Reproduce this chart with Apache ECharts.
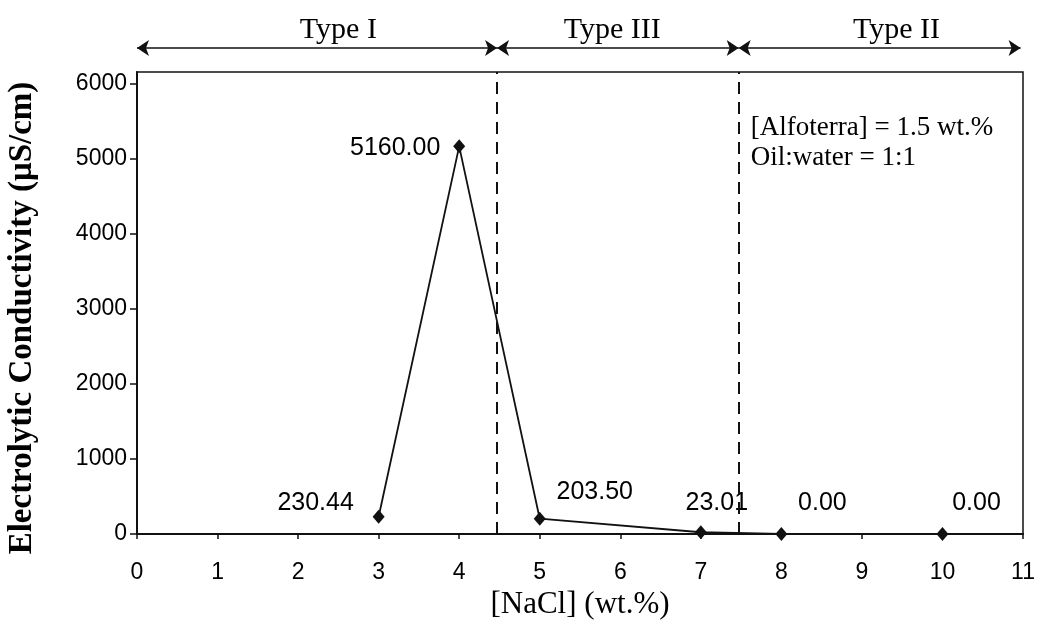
<!DOCTYPE html>
<html><head><meta charset="utf-8">
<script src="https://cdn.jsdelivr.net/npm/echarts@6/dist/echarts.min.js"></script>
<style>html,body{margin:0;padding:0;background:#fff}#c{width:1041px;height:634px}</style>
</head><body><div id="c"></div>
<script>
// ---- data ----
const nacl = [3, 4, 5, 7, 8, 10];
const conductivity = [230.44, 5160.00, 203.50, 23.01, 0.00, 0.00];
const xTicks = [0, 1, 2, 3, 4, 5, 6, 7, 8, 9, 10, 11];
const yTicks = [0, 1000, 2000, 3000, 4000, 5000, 6000];
const phaseBoundaries = [0, 4.47, 7.47, 10.97];
const phaseNames = ['Type I', 'Type III', 'Type II'];
const phaseLabelX = [2.5, 5.9, 9.43];
const dividers = [4.47, 7.47];
const noteLines = ['[Alfoterra] = 1.5 wt.%', 'Oil:water = 1:1'];
const xTitle = '[NaCl] (wt.%)';
const yTitle = 'Electrolytic Conductivity (\u03bcS/cm)';

// ---- layout / style ----
const SANS = "'Liberation Sans', Arial, sans-serif";
const SERIF = "'Liberation Serif', 'Times New Roman', serif";
const labelOffsets = [[-63, -14], [-64, 2], [55, -27], [16, -29], [41, -31], [34, -31]];

const chart = echarts.init(document.getElementById('c'), null, {renderer: 'canvas'});

const mainData = nacl.map((x, i) => ({
  value: [x, conductivity[i]],
  label: {
    show: true, position: 'inside', offset: labelOffsets[i],
    formatter: conductivity[i].toFixed(2),
    color: '#000', fontFamily: SANS, fontSize: 25
  }
}));

const arrowData = phaseNames.map((n, i) => ({
  coords: [[phaseBoundaries[i], 0.2], [phaseBoundaries[i + 1], 0.2]]
}));

const option = {
  backgroundColor: '#fff',
  animation: false,
  grid: [
    {left: 137, right: 18, top: 72, bottom: 100, show: true, borderColor: '#111', borderWidth: 1.5, backgroundColor: 'transparent'},
    {left: 137, right: 18, top: 0, height: 60, show: false}
  ],
  xAxis: [
    {
      type: 'value', gridIndex: 0, min: xTicks[0], max: xTicks[xTicks.length - 1], interval: 1,
      axisLine: {lineStyle: {color: '#111', width: 2}},
      axisTick: {show: true, length: 5, inside: false, lineStyle: {color: '#111', width: 1.5}},
      axisLabel: {color: '#000', fontFamily: SANS, fontSize: 23, margin: 27, formatter: v => String(v)},
      splitLine: {show: false},
      name: xTitle, nameLocation: 'middle', nameGap: 55,
      nameTextStyle: {fontFamily: SERIF, fontSize: 31, color: '#000'}
    },
    {type: 'value', gridIndex: 1, min: 0, max: 11, show: false}
  ],
  yAxis: [
    {
      type: 'value', gridIndex: 0, min: 0, max: 6150, interval: 1000,
      axisLine: {show: true, lineStyle: {color: '#111', width: 2}},
      axisTick: {show: true, length: 7, lineStyle: {color: '#111', width: 1.5}, customValues: yTicks},
      axisLabel: {color: '#000', fontFamily: SANS, fontSize: 23, margin: 10, customValues: yTicks, formatter: v => String(v)},
      splitLine: {show: false}
    },
    {type: 'value', gridIndex: 1, min: 0, max: 1, show: false}
  ],
  graphic: [{
    type: 'text', x: 22, y: 318, rotation: Math.PI / 2,
    style: {text: yTitle, font: 'bold 33px ' + SERIF, fill: '#000', align: 'center', verticalAlign: 'middle'}
  }],
  series: [
    {
      type: 'line', xAxisIndex: 0, yAxisIndex: 0,
      data: mainData,
      symbol: 'diamond', symbolSize: [12, 14],
      itemStyle: {color: '#111'},
      lineStyle: {color: '#111', width: 1.8},
      z: 3,
      markLine: {
        silent: true, symbol: ['none', 'none'],
        label: {show: false},
        lineStyle: {color: '#111', type: [12, 8], width: 2},
        data: dividers.map(d => ({xAxis: d}))
      }
    },
    {
      type: 'scatter', xAxisIndex: 0, yAxisIndex: 0,
      data: [[7.62, 5206]], symbolSize: 0, silent: true,
      itemStyle: {opacity: 1},
      label: {
        show: true, position: 'right', distance: 0,
        formatter: noteLines.join('\n'),
        fontFamily: SERIF, fontSize: 27, lineHeight: 30, color: '#000', align: 'left'
      }
    },
    {
      type: 'lines', coordinateSystem: 'cartesian2d', xAxisIndex: 1, yAxisIndex: 1,
      data: arrowData, symbol: ['arrow', 'arrow'], symbolSize: 12,
      lineStyle: {color: '#111', width: 1.6, opacity: 1}, silent: true
    },
    {
      type: 'scatter', xAxisIndex: 1, yAxisIndex: 1,
      data: phaseNames.map((n, i) => ({name: n, value: [phaseLabelX[i], 0.5]})),
      symbolSize: 0, silent: true,
      itemStyle: {opacity: 1},
      label: {show: true, position: 'inside', formatter: '{b}', fontFamily: SERIF, fontSize: 30, color: '#000'}
    }
  ]
};
chart.setOption(option);
</script></body></html>
